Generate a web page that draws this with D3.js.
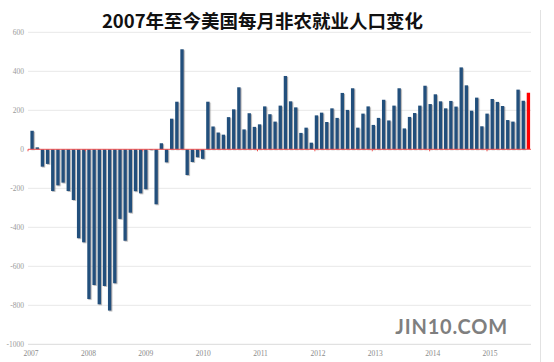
<!DOCTYPE html>
<html>
<head>
<meta charset="utf-8">
<script src="https://cdn.jsdelivr.net/npm/d3@7"></script>
<style>
  body { margin: 0; background: #fff; }
  svg { display: block; }
</style>
</head>
<body>
<div id="chart"></div>
<script>
// monthly change, thousands (first bar is Dec 2007)
var v2007 = [95];
var v2008 = [10, -89, -75, -214, -185, -171, -214, -260, -456, -477, -768, -696];
var v2009 = [-795, -701, -827, -687, -357, -469, -325, -215, -226, -205, -4, -282];
var v2010 = [31, -67, 157, 244, 513, -132, -65, -41, -49, 244, 117, 86];
var v2011 = [75, 165, 205, 318, 102, 185, 115, 128, 220, 180, 142, 224];
var v2012 = [376, 246, 215, 84, 111, 34, 174, 188, 140, 210, 161, 289];
var v2013 = [202, 313, 111, 183, 220, 125, 161, 254, 148, 224, 313, 107];
var v2014 = [166, 186, 224, 326, 232, 282, 246, 210, 248, 219, 420, 328];
var v2015 = [198, 265, 118, 183, 258, 243, 222, 150, 142, 306, 249, 290];

var yearLabels = ["2007", "2008", "2009", "2010", "2011", "2012", "2013", "2014", "2015"];
var yTicks = [600, 400, 200, 0, -200, -400, -600, -800, -1000];
var title = "2007年至今美国每月非农就业人口变化";

var W = 554, H = 362;
var plot = {left: 29.5, right: 531, top: 32.3, bottom: 344.3};

var byYear = [[2007, v2007, 12], [2008, v2008, 1], [2009, v2009, 1], [2010, v2010, 1],
              [2011, v2011, 1], [2012, v2012, 1], [2013, v2013, 1], [2014, v2014, 1], [2015, v2015, 1]];
var data = [];
byYear.forEach(function(r) {
  r[1].forEach(function(v, i) {
    data.push({ key: r[0] + "-" + (r[2] + i), value: v });
  });
});

var svg = d3.select("#chart").append("svg")
    .attr("width", W)
    .attr("height", H);

var defs = svg.append("defs");
defs.append("filter")
    .attr("id", "shadow")
    .attr("x", "-50%").attr("y", "-5%").attr("width", "200%").attr("height", "110%")
  .append("feDropShadow")
    .attr("dx", 1.1).attr("dy", 0.8)
    .attr("stdDeviation", 0.5)
    .attr("flood-color", "#777")
    .attr("flood-opacity", 0.55);

var x = d3.scaleBand()
    .domain(data.map(function(d) { return d.key; }))
    .range([plot.left, plot.right])
    .paddingInner(0.35)
    .paddingOuter(0.175);

var y = d3.scaleLinear()
    .domain([-1000, 600])
    .range([plot.bottom, plot.top]);

var xYear = d3.scaleLinear()
    .domain([2007, 2015])
    .range([31, 490]);

// grid
svg.append("g")
  .selectAll("line")
  .data(yTicks.filter(function(t) { return t !== 0; }))
  .enter().append("line")
    .attr("x1", 28).attr("x2", plot.right)
    .attr("y1", function(d) { return y(d); })
    .attr("y2", function(d) { return y(d); })
    .attr("stroke", function(d) { return d === -1000 ? "#dadada" : "#e8e8e8"; })
    .attr("stroke-width", 1);

// y labels
svg.append("g")
  .selectAll("text")
  .data(yTicks)
  .enter().append("text")
    .attr("x", 24)
    .attr("y", function(d) { return y(d) + 2.5; })
    .attr("text-anchor", "end")
    .attr("font-family", "Liberation Serif, serif")
    .attr("font-size", 7.5)
    .attr("fill", "#9a9a9a")
    .text(function(d) { return d; });

// bars
svg.append("g")
  .selectAll("rect")
  .data(data)
  .enter().append("rect")
    .attr("x", function(d) { return x(d.key); })
    .attr("width", x.bandwidth())
    .attr("y", function(d) { return y(Math.max(0, d.value)); })
    .attr("height", function(d) { return Math.abs(y(d.value) - y(0)); })
    .attr("fill", function(d, i) { return i === data.length - 1 ? "#ff0000" : "#21507c"; })
    .attr("filter", function(d, i) { return i === data.length - 1 ? null : "url(#shadow)"; });

// zero line
svg.append("line")
    .attr("x1", 28).attr("x2", plot.right)
    .attr("y1", y(0)).attr("y2", y(0))
    .attr("stroke", "#f05050")
    .attr("stroke-width", 1);

svg.append("g")
  .selectAll("line")
  .data(yearLabels)
  .enter().append("line")
    .attr("x1", function(d) { return xYear(+d) - 3; })
    .attr("x2", function(d) { return xYear(+d) - 3; })
    .attr("y1", y(0)).attr("y2", y(0) + 2)
    .attr("stroke", "#f05050")
    .attr("stroke-width", 1);

// x labels
svg.append("g")
  .selectAll("text")
  .data(yearLabels)
  .enter().append("text")
    .attr("x", function(d) { return xYear(+d); })
    .attr("y", 355.5)
    .attr("text-anchor", "middle")
    .attr("font-family", "Liberation Serif, serif")
    .attr("font-size", 7.5)
    .attr("fill", "#8a8a8a")
    .text(function(d) { return d; });

// right border
svg.append("line")
    .attr("x1", 540.5).attr("x2", 540.5)
    .attr("y1", 10).attr("y2", H)
    .attr("stroke", "#e2e2e2");

// title
svg.append("text")
    .attr("x", 262.5)
    .attr("y", 28)
    .attr("text-anchor", "middle")
    .attr("font-family", "Noto Sans CJK SC, sans-serif")
    .attr("font-weight", "bold")
    .attr("font-size", 18.5)
    .attr("fill", "#111")
    .text(title);

// watermark
svg.append("text")
    .attr("x", 508)
    .attr("y", 333.5)
    .attr("text-anchor", "end")
    .attr("font-family", "Lato, sans-serif")
    .attr("font-weight", "bold")
    .attr("font-size", 20)
    .attr("letter-spacing", 0.8)
    .attr("fill", "#7f7f7f")
    .text("JIN10.COM");
</script>
</body>
</html>
